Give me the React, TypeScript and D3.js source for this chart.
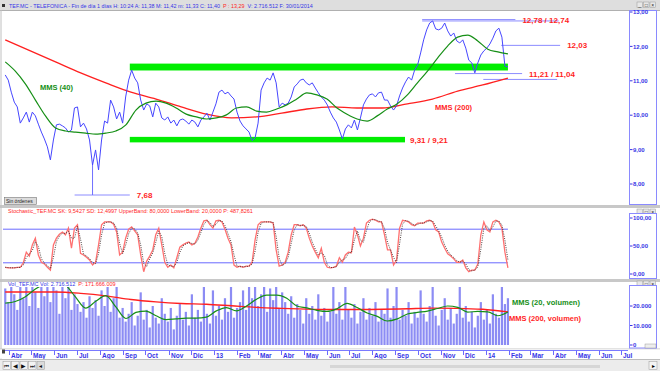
import React, { useEffect, useRef } from 'react';
import * as d3 from 'd3';

// Series dates
const dataStart = new Date(2012, 2, 27);
const dataEnd = new Date(2014, 0, 30);
const axisStart = new Date(2012, 2, 26);
const axisEnd = new Date(2014, 6, 10);

// Daily close (sampled), TEF.MC
const closes = [
	11.17, 11.02, 10.67, 10.38, 10.24, 9.77, 9.92, 10.09, 9.8, 10.09, 9.98, 9.74, 9.51, 9.31, 9.08, 8.7, 9.28, 9.72, 9.74, 9.69,
	9.63, 9.51, 9.57, 10.21, 10.24, 9.66, 9.77, 9.6, 9.28, 8.55, 8.99, 8.41, 9.28, 9.83, 9.77, 10.44, 10.24, 9.89, 10.09, 9.77,
	10.53, 11.02, 11.31, 11.08, 10.94, 10.44, 10.15, 10.33, 10.27, 9.95, 10.35, 10.24, 9.92, 9.86, 9.95, 9.77, 9.86, 9.69, 9.86, 9.89,
	9.83, 9.74, 9.86, 9.8, 9.66, 9.86, 9.95, 10.06, 9.86, 10.09, 10.33, 10.67, 10.73, 10.62, 10.67, 10.56, 10.47, 10.09, 9.83, 9.69,
	9.6, 9.51, 9.26, 9.34, 9.77, 10.73, 10.94, 11.08, 11.02, 11.23, 10.94, 10.24, 10.35, 10.3, 10.35, 10.53, 10.82, 10.91, 11.02, 11.05,
	10.94, 10.88, 10.94, 10.79, 10.65, 10.53, 10.44, 10.3, 10.09, 9.92, 9.8, 9.57, 9.31, 9.6, 9.72, 9.63, 9.86, 9.57, 9.92, 10.3,
	10.47, 10.59, 10.62, 10.53, 10.65, 10.67, 10.44, 10.44, 10.27, 10.15, 10.27, 10.56, 10.79, 10.97, 11.11, 11.02, 11.31, 11.46, 11.81, 12.19,
	12.48, 12.68, 12.74, 12.51, 12.48, 12.53, 12.68, 12.45, 12.3, 12.39, 12.16, 12.1, 12.19, 11.95, 11.6, 11.52, 11.23, 11.52, 11.75, 11.87,
	11.95, 12.07, 12.24, 12.45, 12.53, 12.27, 11.43, 11.4,
];

const mms40 = [
	11.55, 11.28, 10.91, 10.44, 9.98, 9.63, 9.54, 9.51, 9.48, 9.45, 9.48, 9.54, 9.72, 10.15, 10.35, 10.41, 10.35, 10.21, 10.03, 9.95,
	9.89, 9.92, 10.01, 10.21, 10.24, 10.12, 10.09, 10.18, 10.3, 10.47, 10.65, 10.59, 10.47, 10.21, 10.03, 9.89, 9.83, 9.98, 10.18, 10.33,
	10.59, 10.94, 11.28, 11.66, 12.01, 12.27, 12.33, 12.16, 11.92, 11.84, 11.78,
];

const mms200 = [
	12.19, 11.87, 11.55, 11.23, 10.94, 10.67, 10.47, 10.24, 10.03, 9.92, 9.95, 10.06, 10.18, 10.24, 10.21, 10.21, 10.33, 10.47, 10.7,
	10.88, 11.08,
];

// Stochastic %K
const stochK = [
	12, 11, 11, 11, 12, 12, 20, 39, 32, 52, 64, 34, 21, 18, 12, 7, 52, 64, 71, 75, 70, 82, 46, 82, 88, 37, 34, 30, 25, 16, 21, 52, 88,
	93, 93, 93, 89, 75, 34, 39, 64, 80, 84, 77, 70, 34, 4, 23, 32, 43, 70, 82, 52, 21, 12, 16, 11, 29, 48, 52, 55, 57, 52, 55, 66, 82,
	95, 96, 88, 82, 95, 96, 93, 80, 64, 52, 16, 12, 14, 12, 14, 14, 21, 61, 88, 93, 93, 93, 93, 91, 43, 14, 16, 21, 39, 70, 88, 88, 86,
	88, 82, 64, 50, 39, 29, 46, 21, 12, 11, 12, 14, 29, 21, 34, 39, 38, 84, 70, 50, 64, 91, 96, 98, 96, 93, 93, 70, 43, 43, 16, 25, 82,
	96, 95, 93, 88, 86, 91, 91, 91, 95, 96, 93, 79, 75, 57, 46, 36, 32, 27, 21, 21, 25, 11, 4, 7, 7, 18, 70, 93, 79, 75, 93, 96, 93, 82,
	39, 11,
];
const upperBand = 80;
const lowerBand = 20;

// Volume in thousands
const volumes = [
	29, 22, 31, 26, 18, 33, 24, 30, 20, 35, 27, 19, 31, 25, 33,
	22, 34, 28, 16, 30, 24, 32, 18, 26, 21,
	17, 22, 14, 25, 19, 23, 15,
	28, 20, 33, 17, 24, 30, 14, 19,
	12, 16, 22, 10, 15, 27, 13, 18, 9, 20, 14, 11, 24, 16, 12, 19, 8, 15, 21, 13, 17, 10, 26, 14, 18,
	12, 30, 16, 11, 28, 15, 20, 13, 24, 17, 33, 14, 19, 22,
	28, 18, 34, 24, 30, 20, 26, 35, 17, 29, 23, 31, 19, 27, 22, 16, 25,
	14, 21, 18, 11, 24, 16, 20, 13, 26, 15, 19, 12, 17,
	31, 16, 22, 13, 35, 18, 14, 21, 11, 17, 24, 13, 19, 15, 22, 12, 18, 16, 29, 14, 20, 33,
	13, 18, 15, 22, 11, 17, 14, 28, 16, 12, 20, 30, 15, 10, 18, 24, 13, 19, 11, 16,
	30, 14, 20, 12, 17, 9, 15, 22, 13, 18, 11, 26, 16, 14, 33, 21, 24,
];
const volMms20 = [
	21.5, 22.3, 24.8, 28.7, 31.5, 33.3, 30.8, 24.5, 18.9, 22.4, 25.3, 19.5, 13.6, 16.7, 17.4, 15, 13, 13.4, 13.8, 13.8, 14.3, 17.5,
	19.2, 17.5, 20, 23.5, 25.6, 25.6, 24, 20, 19, 17.8, 17.2, 18.6, 21.3, 19.2, 16.4, 14.7, 12.3, 13.4, 15.9, 16.7, 17.4, 18.7, 20,
	19.3, 16.9, 17.2, 17, 15, 16.9,
];
const volMms200 = [
	27.2, 27.2, 27.2, 26.5, 25.2, 23.3, 22.1, 21.3, 20.9, 20.1, 19.3, 18.8, 18.4, 18.2, 18.2, 18.3, 18.6, 18.9, 18.8, 18.3, 17,
];

const monthNames = ['Ene', 'Feb', 'Mar', 'Abr', 'May', 'Jun', 'Jul', 'Ago', 'Sep', 'Oct', 'Nov', 'Dic'];
const priceTicks = [8, 9, 10, 11, 12, 13];
const stochTicks = [0, 50, 100];
const volTicks = [0, 10, 20];

// support / resistance levels
const levels = [
	{ price: 12.78, from: new Date(2013, 9, 7), to: new Date(2014, 1, 9) },
	{ price: 12.74, from: new Date(2013, 9, 7), to: new Date(2014, 3, 8) },
	{ price: 12.03, from: new Date(2014, 0, 21), to: new Date(2014, 3, 10) },
	{ price: 11.21, from: new Date(2013, 10, 20), to: new Date(2014, 1, 18) },
	{ price: 11.04, from: new Date(2013, 11, 28), to: new Date(2014, 3, 6) },
	{ price: 7.68, from: new Date(2012, 5, 28), to: new Date(2012, 8, 10) },
];
const levelLabels = [
	{ text: '12,78 / 12,74', price: 12.78, at: new Date(2014, 1, 9) },
	{ text: '12,03', price: 12.03, at: new Date(2014, 3, 10) },
	{ text: '11,21 / 11,04', price: 11.21, at: new Date(2014, 1, 18) },
	{ text: '7,68', price: 7.68, at: new Date(2012, 8, 10) },
];
const bands = [
	{ lo: 11.3, hi: 11.5, from: new Date(2012, 8, 10), to: dataEnd },
	{ lo: 9.21, hi: 9.37, from: new Date(2012, 8, 10), to: new Date(2013, 8, 14), label: '9,31 / 9,21' },
];
const lowSpike = { index: 29, low: 7.68 };

const titleParts = [
	{ text: 'TEF.MC - TELEFONICA - Fin de día 1 días H: 10:24  A: 11,38  M: 11,42  m: 11,33  C: 11,40', red: false },
	{ text: 'P : 13,29', red: true },
	{ text: 'V: 2.716.512  F: 30/01/2014', red: false },
];
const volParts = [
	{ text: 'Vol_TEF.MC  Vol: 2.716.512', red: false },
	{ text: 'P: 171.666.009', red: true },
];

const FONT = 'Liberation Sans, Arial, sans-serif';
const BLUE = '#3535e6';
const RED = '#ff1f1f';

export default function App() {
	const ref = useRef(null);

	useEffect(() => {
		const svg = d3.select(ref.current);
		svg.selectAll('*').remove();
		svg.style('font-family', FONT);

		const loc = d3.formatLocale({ decimal: ',', thousands: '.', grouping: [3], currency: ['', ''] });
		const f2 = loc.format(',.2f');
		const f0 = loc.format(',.0f');

		const x = d3.scaleTime().domain([axisStart, axisEnd]).range([4.5, 628]);
		const dateAt = (i, n) => new Date(+dataStart + ((+dataEnd - +dataStart) * i) / (n - 1));
		const xi = n => (d, i) => x(dateAt(i, n));

		const yP = d3.scaleLinear().domain([8, 13]).range([184, 12]);
		const yS = d3.scaleLinear().domain([0, 100]).range([274, 218]);
		const yV = d3.scaleLinear().domain([0, 20]).range([345, 306]);

		// header texts laid out one after another
		const headerRow = (parts, x0, yy, size) => {
			let cx = x0;
			parts.forEach(p => {
				const t = svg.append('text')
					.attr('x', cx)
					.attr('y', yy)
					.attr('font-size', size)
					.attr('fill', p.red ? RED : BLUE)
					.text(p.text);
				cx += t.node().getComputedTextLength() + 3;
			});
		};

		// background + frames
		svg.append('rect').attr('width', 660).attr('height', 371).attr('fill', '#fff');
		svg.append('rect').attr('x', 0).attr('y', 0).attr('width', 660).attr('height', 10).attr('fill', '#dedede');
		svg.append('line').attr('x1', 0).attr('x2', 660).attr('y1', 10.5).attr('y2', 10.5).attr('stroke', '#b0b0b0');
		svg.append('rect').attr('x', 2).attr('y', 4).attr('width', 3).attr('height', 3).attr('fill', '#333');
		headerRow(titleParts, 9, 8.3, 5.4);

		// panel separators
		[[205, 208], [279, 282], [348.5, 349.5]].forEach(([a, b]) => {
			svg.append('rect').attr('x', 0).attr('y', a).attr('width', 660).attr('height', b - a).attr('fill', '#c8c8c8');
		});
		svg.append('line').attr('x1', 1).attr('x2', 1).attr('y1', 10).attr('y2', 360).attr('stroke', '#c0c0c0');

		// window control icons
		[2, 209, 281].forEach(yy => {
			['_', '□', '×'].forEach((g, k) => {
				svg.append('rect')
					.attr('x', 637 + k * 6.5)
					.attr('y', yy)
					.attr('width', 5.5)
					.attr('height', 5.5)
					.attr('fill', '#e8e8e8')
					.attr('stroke', '#999')
					.attr('stroke-width', 0.5);
				svg.append('text')
					.attr('x', 639.7 + k * 6.5)
					.attr('y', yy + 4.8)
					.attr('font-size', 5)
					.attr('text-anchor', 'middle')
					.attr('fill', '#222')
					.text(g);
			});
		});

		// right axis boxes
		const axisBox = (y0, y1) =>
			svg.append('rect')
				.attr('x', 629.5)
				.attr('y', y0)
				.attr('width', 27)
				.attr('height', y1 - y0)
				.attr('fill', '#fff')
				.attr('stroke', '#8a8aff')
				.attr('stroke-width', 1);
		axisBox(10.5, 204.5);
		axisBox(213.5, 278.5);
		axisBox(285.5, 348);

		const axisLabels = (ticks, scale, fmt) => {
			ticks.forEach(t => {
				svg.append('line')
					.attr('x1', 630)
					.attr('x2', 632.5)
					.attr('y1', scale(t))
					.attr('y2', scale(t))
					.attr('stroke', BLUE);
				svg.append('text')
					.attr('x', 633)
					.attr('y', scale(t) + 2.2)
					.attr('font-size', 6)
					.attr('font-weight', 'bold')
					.attr('fill', BLUE)
					.text(fmt(t));
			});
		};
		axisLabels(priceTicks, yP, f2);
		axisLabels(stochTicks, yS, f2);
		axisLabels(volTicks, yV, d => f0(d * 1000));
		svg.append('rect').attr('x', 645).attr('y', 344).attr('width', 11).attr('height', 4).attr('fill', '#eee').attr('stroke', '#888').attr('stroke-width', 0.4);

		// clip paths
		const defs = svg.append('defs');
		const clip = (id, y0, h) =>
			defs.append('clipPath').attr('id', id).append('rect').attr('x', 2).attr('y', y0).attr('width', 627).attr('height', h);
		clip('cMain', 11, 194);
		clip('cStoch', 214, 65);
		clip('cVol', 287, 61);

		// ---------- main panel ----------
		const main = svg.append('g').attr('clip-path', 'url(#cMain)');

		bands.forEach(b => {
			main.append('rect')
				.attr('x', x(b.from))
				.attr('y', yP(b.hi))
				.attr('width', x(b.to) - x(b.from))
				.attr('height', yP(b.lo) - yP(b.hi))
				.attr('fill', '#00ee00');
		});

		levels.forEach(l => {
			main.append('line')
				.attr('x1', x(l.from))
				.attr('x2', x(l.to))
				.attr('y1', yP(l.price))
				.attr('y2', yP(l.price))
				.attr('stroke', '#8c8cff')
				.attr('stroke-width', 1);
		});
		const spikeX = x(dateAt(lowSpike.index, closes.length));
		main.append('line')
			.attr('x1', spikeX)
			.attr('x2', spikeX)
			.attr('y1', yP(closes[lowSpike.index]))
			.attr('y2', yP(lowSpike.low))
			.attr('stroke', '#7070ff');

		main.append('path')
			.datum(mms200)
			.attr('fill', 'none')
			.attr('stroke', '#ff2020')
			.attr('stroke-width', 1.3)
			.attr('d', d3.line().x(xi(mms200.length)).y(d => yP(d)).curve(d3.curveMonotoneX));

		main.append('path')
			.datum(closes)
			.attr('fill', 'none')
			.attr('stroke', '#4646ff')
			.attr('stroke-width', 1)
			.attr('d', d3.line().x(xi(closes.length)).y(d => yP(d)));

		main.append('path')
			.datum(mms40)
			.attr('fill', 'none')
			.attr('stroke', '#168f16')
			.attr('stroke-width', 1.2)
			.attr('d', d3.line().x(xi(mms40.length)).y(d => yP(d)).curve(d3.curveMonotoneX));

		const boldLabel = (text, xx, yy, color, size = 8) =>
			svg.append('text')
				.attr('x', xx)
				.attr('y', yy)
				.attr('font-size', size)
				.attr('font-weight', 'bold')
				.attr('fill', color)
				.text(text);

		levelLabels.forEach(l => boldLabel(l.text, x(l.at) + 7, yP(l.price) + 3, RED));
		bands.filter(b => b.label).forEach(b => boldLabel(b.label, x(b.to) + 5, yP(b.lo) + 1, RED));
		boldLabel('MMS (40)', 40, 90, '#168f16', 7.5);
		boldLabel('MMS (200)', 435, 110, RED, 7.5);

		// Sin ordenes button
		svg.append('rect').attr('x', 4.5).attr('y', 197.5).attr('width', 32).attr('height', 7).attr('fill', '#dcdcdc').attr('stroke', '#777').attr('stroke-width', 0.6);
		svg.append('text').attr('x', 6).attr('y', 203).attr('font-size', 5).attr('fill', '#222').text('Sin órdenes');

		// ---------- stochastic ----------
		svg.append('text')
			.attr('x', 8)
			.attr('y', 213)
			.attr('font-size', 5.5)
			.attr('fill', RED)
			.text('Stochastic_TEF.MC  SK: 9,5427  SD: 12,4997  UpperBand: 80,0000  LowerBand: 20,0000  P: 487,8261');

		const st = svg.append('g').attr('clip-path', 'url(#cStoch)');
		[upperBand, lowerBand].forEach(b => {
			st.append('line')
				.attr('x1', 3)
				.attr('x2', x(dataEnd))
				.attr('y1', yS(b))
				.attr('y2', yS(b))
				.attr('stroke', '#6a6aff')
				.attr('stroke-width', 1);
		});
		const stochD = stochK.map((v, i) => (i === 0 ? v : (v + stochK[i - 1]) / 2));
		st.append('path')
			.datum(stochK)
			.attr('fill', 'none')
			.attr('stroke', '#ff7070')
			.attr('stroke-width', 1.3)
			.attr('d', d3.line().x(xi(stochK.length)).y(d => yS(d)));
		st.append('path')
			.datum(stochD)
			.attr('fill', 'none')
			.attr('stroke', '#3a2a2a')
			.attr('stroke-width', 0.9)
			.attr('stroke-dasharray', '1,1.3')
			.attr('d', d3.line().x(xi(stochD.length)).y(d => yS(d)));

		// ---------- volume ----------
		headerRow(volParts, 8, 285.8, 5.5);

		const vg = svg.append('g').attr('clip-path', 'url(#cVol)');
		vg.selectAll('rect.vol')
			.data(volumes)
			.enter()
			.append('rect')
			.attr('class', 'vol')
			.attr('x', (d, i) => x(dateAt(i, volumes.length)) - 1.1)
			.attr('width', 2.2)
			.attr('y', d => yV(d))
			.attr('height', d => yV(0) - yV(d))
			.attr('fill', '#7878f2')
			.attr('opacity', 0.85);
		vg.append('path')
			.datum(volMms200)
			.attr('fill', 'none')
			.attr('stroke', '#ff2020')
			.attr('stroke-width', 1.4)
			.attr('d', d3.line().x(xi(volMms200.length)).y(d => yV(d)).curve(d3.curveMonotoneX));
		vg.append('path')
			.datum(volMms20)
			.attr('fill', 'none')
			.attr('stroke', '#168f16')
			.attr('stroke-width', 1.2)
			.attr('d', d3.line().x(xi(volMms20.length)).y(d => yV(d)).curve(d3.curveMonotoneX));
		boldLabel('MMS (20, volumen)', 512, 305, '#168f16', 7.5);
		boldLabel('MMS (200, volumen)', 509, 321, RED, 7.5);

		// ---------- x axis ----------
		svg.append('rect').attr('x', 0).attr('y', 349.5).attr('width', 660).attr('height', 9).attr('fill', '#fff');
		svg.append('line').attr('x1', 3).attr('x2', 628).attr('y1', 350.5).attr('y2', 350.5).attr('stroke', '#7a7aff');
		svg.append('rect').attr('x', 2).attr('y', 349.5).attr('width', 3).attr('height', 4).attr('fill', '#444');
		d3.timeMonth.range(d3.timeMonth.ceil(axisStart), axisEnd).forEach(m => {
			const xx = Math.round(x(m)) + 0.5;
			svg.append('line').attr('x1', xx).attr('x2', xx).attr('y1', 350.5).attr('y2', 355).attr('stroke', '#6a6aff');
			const lbl = m.getMonth() === 0 ? String(m.getFullYear()).slice(2) : monthNames[m.getMonth()];
			svg.append('text')
				.attr('x', xx + 1.5)
				.attr('y', 357.5)
				.attr('font-size', 6.5)
				.attr('font-weight', 'bold')
				.attr('fill', BLUE)
				.text(lbl);
		});

		// ---------- navigation bar ----------
		svg.append('rect').attr('x', 0).attr('y', 359).attr('width', 660).attr('height', 12).attr('fill', '#ececec');
		svg.append('line').attr('x1', 0).attr('x2', 660).attr('y1', 359.5).attr('y2', 359.5).attr('stroke', '#bdbdbd');
		['⏮', '◀', '▶', '⏭', '◂'].forEach((g, k) => {
			svg.append('rect')
				.attr('x', 3 + k * 8.5)
				.attr('y', 361.5)
				.attr('width', 7.5)
				.attr('height', 8)
				.attr('fill', k === 4 ? '#dadada' : '#f4f4f4')
				.attr('stroke', '#999')
				.attr('stroke-width', 0.5);
			svg.append('text')
				.attr('x', 6.8 + k * 8.5)
				.attr('y', 368)
				.attr('font-size', 5.5)
				.attr('text-anchor', 'middle')
				.attr('fill', '#111')
				.text(g);
		});
		svg.append('rect').attr('x', 330).attr('y', 365).attr('width', 270).attr('height', 3).attr('fill', '#d6d6d6');
		svg.append('rect').attr('x', 649).attr('y', 361.5).attr('width', 8).attr('height', 8).attr('fill', '#f4f4f4').attr('stroke', '#999').attr('stroke-width', 0.5);
		svg.append('text').attr('x', 653).attr('y', 368).attr('font-size', 5.5).attr('text-anchor', 'middle').text('▸');
	}, []);

	return <svg ref={ref} width={660} height={371} style={{ position: 'absolute', left: 0, top: 0 }} />;
}
